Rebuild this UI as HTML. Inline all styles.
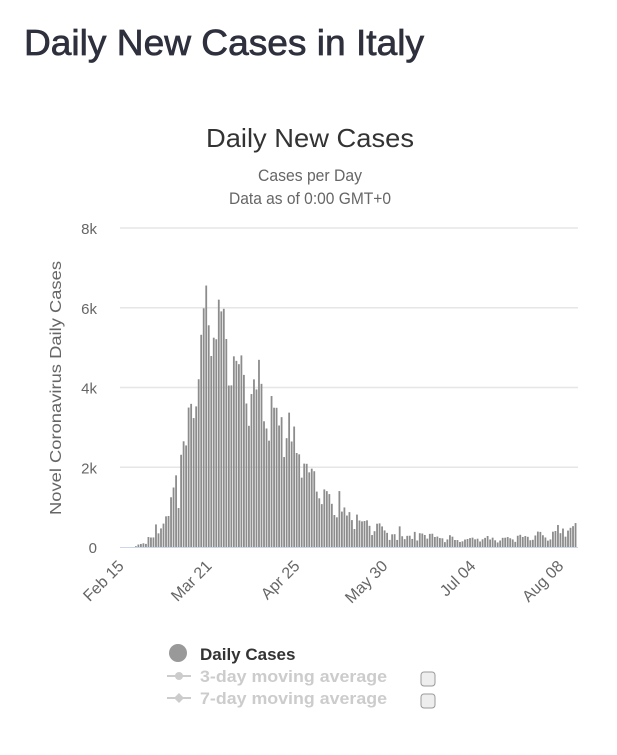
<!DOCTYPE html>
<html><head><meta charset="utf-8"><style>
body{margin:0;background:#fff;width:617px;height:750px;overflow:hidden;font-family:"Liberation Sans",sans-serif}
</style></head><body>
<svg width="617" height="750" xmlns="http://www.w3.org/2000/svg" font-family="Liberation Sans, sans-serif">
<text x="24" y="55" font-size="36" fill="#2e303d" stroke="#2e303d" stroke-width="0.7" textLength="400" lengthAdjust="spacingAndGlyphs">Daily New Cases in Italy</text>
<text x="310" y="147" font-size="26" fill="#333" text-anchor="middle" textLength="208" lengthAdjust="spacingAndGlyphs">Daily New Cases</text>
<text x="310" y="181" font-size="17" fill="#666" text-anchor="middle" textLength="104" lengthAdjust="spacingAndGlyphs">Cases per Day</text>
<text x="310" y="204" font-size="17" fill="#666" text-anchor="middle" textLength="162" lengthAdjust="spacingAndGlyphs">Data as of 0:00 GMT+0</text>
<g id="grid"></g><g id="bars"></g><g id="xlabels"></g>
<text transform="translate(61,388) rotate(-90)" font-size="16" fill="#666" text-anchor="middle" textLength="254" lengthAdjust="spacingAndGlyphs">Novel Coronavirus Daily Cases</text>
<g>
<circle cx="178" cy="653" r="9" fill="#999"/>
<text x="200" y="660" font-size="17" font-weight="bold" fill="#333">Daily Cases</text>
<line x1="167" y1="676" x2="191" y2="676" stroke="#ccc" stroke-width="2"/><circle cx="179" cy="676" r="4" fill="#ccc"/>
<text x="200" y="682" font-size="17" font-weight="bold" fill="#ccc" textLength="187" lengthAdjust="spacingAndGlyphs">3-day moving average</text>
<line x1="167" y1="698" x2="191" y2="698" stroke="#ccc" stroke-width="2"/><path d="M179 693 L184 698 L179 703 L174 698Z" fill="#ccc"/>
<text x="200" y="704" font-size="17" font-weight="bold" fill="#ccc" textLength="187" lengthAdjust="spacingAndGlyphs">7-day moving average</text>
<rect x="421" y="672" width="14" height="14" rx="3" fill="#eee" stroke="#999"/>
<rect x="421" y="694" width="14" height="14" rx="3" fill="#eee" stroke="#999"/>
</g>
</svg>
<script>
const yTicks=[0,2000,4000,6000,8000];
const yTickLabels=["0","2k","4k","6k","8k"];
const xTickIndex=[0,35,70,105,140,175];
const xTickLabels=["Feb 15","Mar 21","Apr 25","May 30","Jul 04","Aug 08"];
const dailyCases=[0,0,0,0,0,0,20,62,77,93,78,250,238,240,566,342,466,587,769,778,1247,1492,1797,977,2313,2651,2547,3497,3590,3233,3526,4207,5322,5986,6557,5560,4789,5249,5210,6203,5909,5974,5217,4050,4053,4782,4668,4585,4805,4316,3599,3039,3836,4204,3951,4694,4092,3153,2972,2667,3786,3493,3491,3047,3256,2256,2729,3370,2646,3021,2357,2324,1739,2091,2086,1872,1965,1900,1389,1221,1075,1444,1401,1327,1083,802,744,1402,888,992,789,875,675,451,813,665,642,652,669,531,300,397,584,593,516,416,355,178,318,321,177,518,270,197,280,283,202,379,163,346,338,301,210,329,333,251,262,224,218,122,190,296,259,175,174,126,142,187,201,223,235,192,208,138,193,229,276,188,234,169,114,163,230,233,249,219,190,129,282,306,252,275,255,170,181,289,386,379,295,239,159,190,384,402,552,347,463,259,412,481,523,600];
const NS="http://www.w3.org/2000/svg";
const x0=120,x1=578,y0=547,yTop=228,yMax=8000;
const dayW=(x1-x0-2)/(dailyCases.length-0.5);
const xs=i=>x0+i*dayW+0.8;
const ys=v=>y0-(v/yMax)*(y0-yTop);
function mk(t,a){const e=document.createElementNS(NS,t);for(const k in a)e.setAttribute(k,a[k]);return e;}
const grid=document.getElementById('grid');
yTicks.forEach((v,i)=>{
 if(i>0){const l=mk('line',{x1:x0,x2:x1,y1:ys(v),y2:ys(v),stroke:'#e6e6e6','stroke-width':1.5});
 
 grid.appendChild(l);}
 const t=mk('text',{x:97,y:ys(v)+6,'font-size':15,fill:'#666','text-anchor':'end'});t.textContent=yTickLabels[i];
 
 grid.appendChild(t);
});
const base=mk('line',{x1:x0,x2:x1,y1:y0+0.5,y2:y0+0.5,stroke:'#ccd6eb','stroke-width':1});

grid.appendChild(base);
const bars=document.getElementById('bars');
dailyCases.forEach((v,i)=>{
 const r=mk('rect',{x:xs(i)-0.9,y:ys(v),width:1.8,height:y0-ys(v),fill:'#8c8c8c'});
 
 bars.appendChild(r);
});
const xl=document.getElementById('xlabels');
xTickIndex.forEach((d,i)=>{
 const x=xs(d)+4,y=567;
 const t=mk('text',{x:x,y:y,'font-size':16,fill:'#666','text-anchor':'end',transform:`rotate(-45 ${x} ${y})`});
 t.textContent=xTickLabels[i];
 
 xl.appendChild(t);
});
</script>
</body></html>
